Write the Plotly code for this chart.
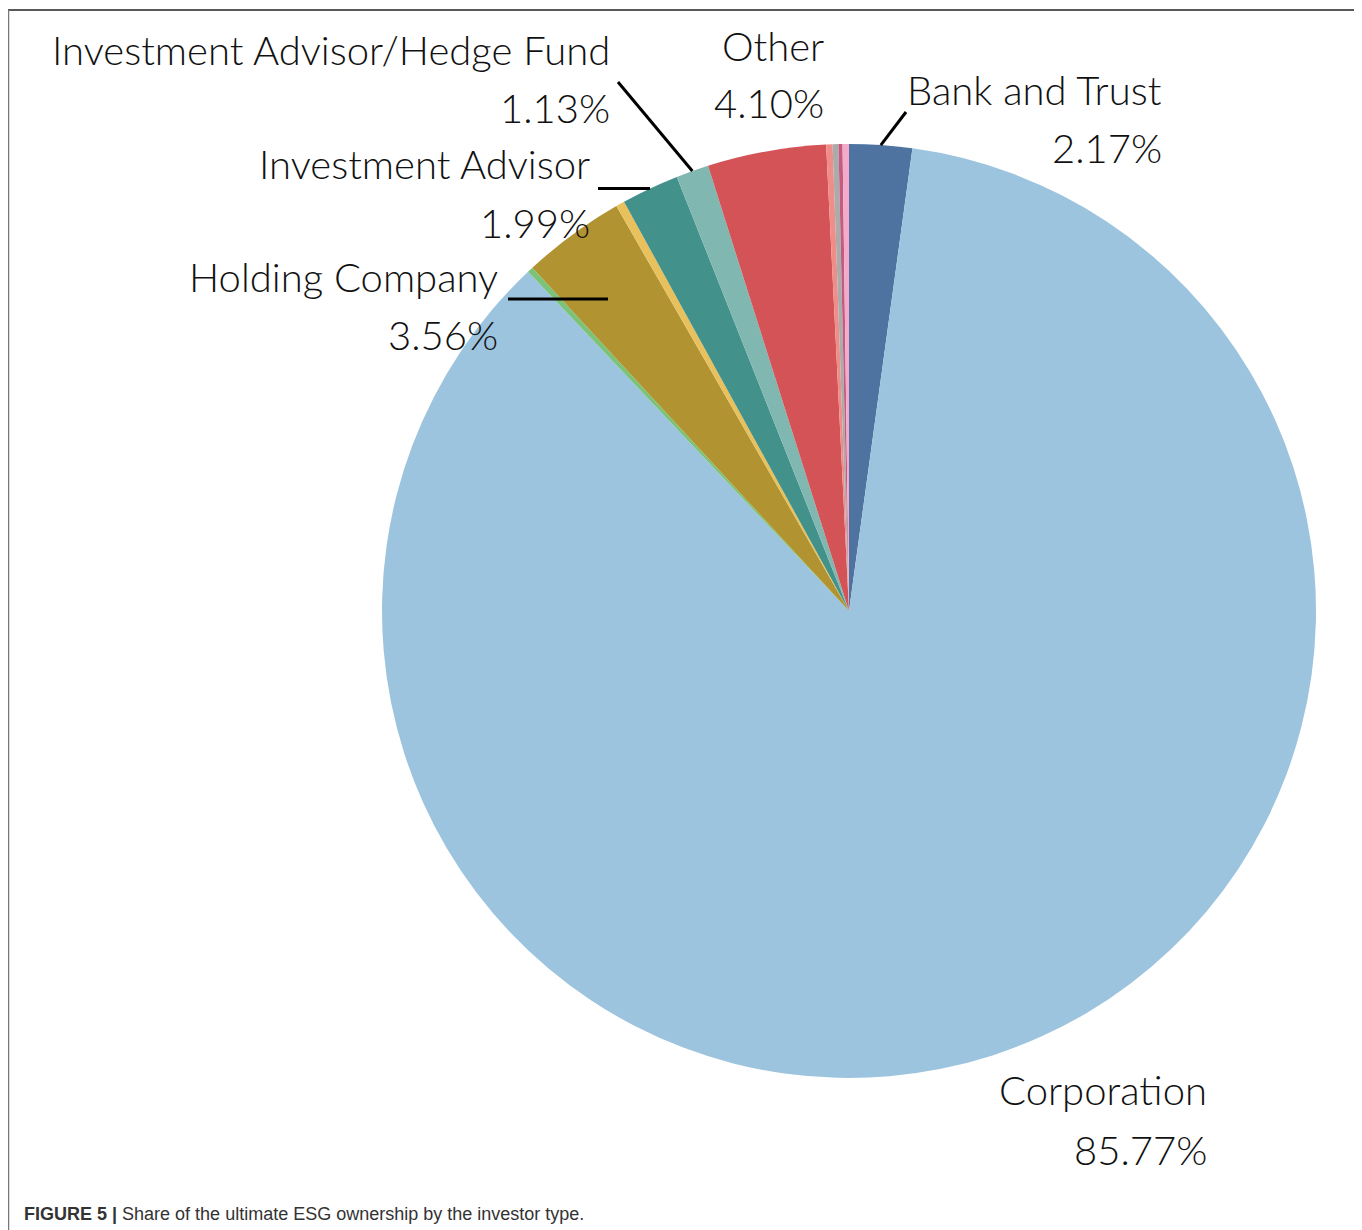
import math
import plotly.graph_objects as go

# ---- data ----
categories = ["Bank and Trust", "Corporation", "Foundation/Endowment", "Holding Company",
              "Individual", "Investment Advisor", "Investment Advisor/Hedge Fund", "Other",
              "Pension Fund", "Private Equity", "Sovereign Wealth Fund", "Venture Capital"]
shares = [2.17, 85.77, 0.20, 3.56, 0.30, 1.99, 1.13, 4.10, 0.22, 0.20, 0.14, 0.22]
colors = ["#4E73A0", "#9DC4DE", "#7CC37A", "#B19431", "#E9C15C", "#42918A",
          "#80B7B0", "#D45356", "#EF8D89", "#ABABAB", "#C35D7F", "#F4AACB"]
labeled = ["Bank and Trust", "Corporation", "Holding Company", "Investment Advisor",
           "Investment Advisor/Hedge Fund", "Other"]

OFF = 8                      # page body margin
W, H = 1354, 1222
CX, CY, R = 849, 611, 467    # pie placement (page pixels)

def px(x, y):
    return (x - OFF) / W, 1 - (y - OFF) / H

dx0, dy1 = px(CX - R, CY - R)
dx1, dy0 = px(CX + R, CY + R)

fig = go.Figure(go.Pie(
    labels=categories, values=shares, sort=False, direction="clockwise", rotation=0,
    marker=dict(colors=colors, line=dict(width=0)),
    textinfo="none", hoverinfo="label+percent",
    domain=dict(x=[dx0, dx1], y=[dy0, dy1]),
))

# mid-angle point of a slice at a fraction of the radius
total = sum(shares)
def slice_point(name, frac=1.0):
    i = categories.index(name)
    start = sum(shares[:i])
    mid = (start + shares[i] / 2) / total * 2 * math.pi
    return CX + R * frac * math.sin(mid), CY - R * frac * math.cos(mid)

FONT = "Lato, 'Open Sans', sans-serif"
FS = 40
# label layout: (right edge x, name y, pct y) in page pixels
label_pos = {
    "Investment Advisor/Hedge Fund": (612, 50, 108),
    "Other": (826, 46, 103),
    "Bank and Trust": (1164, 90, 148),
    "Investment Advisor": (592, 164, 223),
    "Holding Company": (500, 277, 335),
    "Corporation": (1209, 1090, 1150),
}
annotations = []
for name in labeled:
    xr, yn, yp = label_pos[name]
    pct = shares[categories.index(name)]
    for txt, yy in ((name, yn), (f"{pct:.2f}%", yp)):
        x, y = px(xr, yy)
        annotations.append(dict(x=x, y=y, xref="paper", yref="paper", text=txt,
                                showarrow=False, xanchor="right", yanchor="middle",
                                font=dict(family=FONT, size=FS, color="#111111", weight=300)))

cap_x, cap_y = px(22, 1214)
annotations.append(dict(x=cap_x, y=cap_y, xref="paper", yref="paper",
                        text="<b>FIGURE 5 |</b> Share of the ultimate ESG ownership by the investor type.",
                        showarrow=False, xanchor="left", yanchor="middle",
                        font=dict(family="'Liberation Sans Narrow', Arial, sans-serif", size=18, color="#333333")))

shapes = []
def seg(x0, y0, x1, y1, color="black", width=3):
    a0, b0 = px(x0, y0)
    a1, b1 = px(x1, y1)
    shapes.append(dict(type="line", xref="paper", yref="paper", x0=a0, y0=b0, x1=a1, y1=b1,
                       line=dict(color=color, width=width)))

# leader lines
bx, by = slice_point("Bank and Trust")
seg(bx, by, 906, 112)
hx, hy = slice_point("Investment Advisor/Hedge Fund")
seg(618, 82, hx, hy)
ix, iy = slice_point("Investment Advisor")
seg(598, iy, ix, iy)
seg(508, 299, 608, 299)

# frame
seg(8, 10, 1356, 10, color="#222222", width=1.5)
seg(8.5, 10, 8.5, 1230, color="#777777", width=1.5)
seg(1355.5, 10, 1355.5, 1230, color="#888888", width=2.5)

fig.update_layout(width=W, height=H, margin=dict(l=0, r=0, t=0, b=0),
                  paper_bgcolor="white", plot_bgcolor="white", showlegend=False,
                  annotations=annotations, shapes=shapes)
fig.write_html("out.html")
